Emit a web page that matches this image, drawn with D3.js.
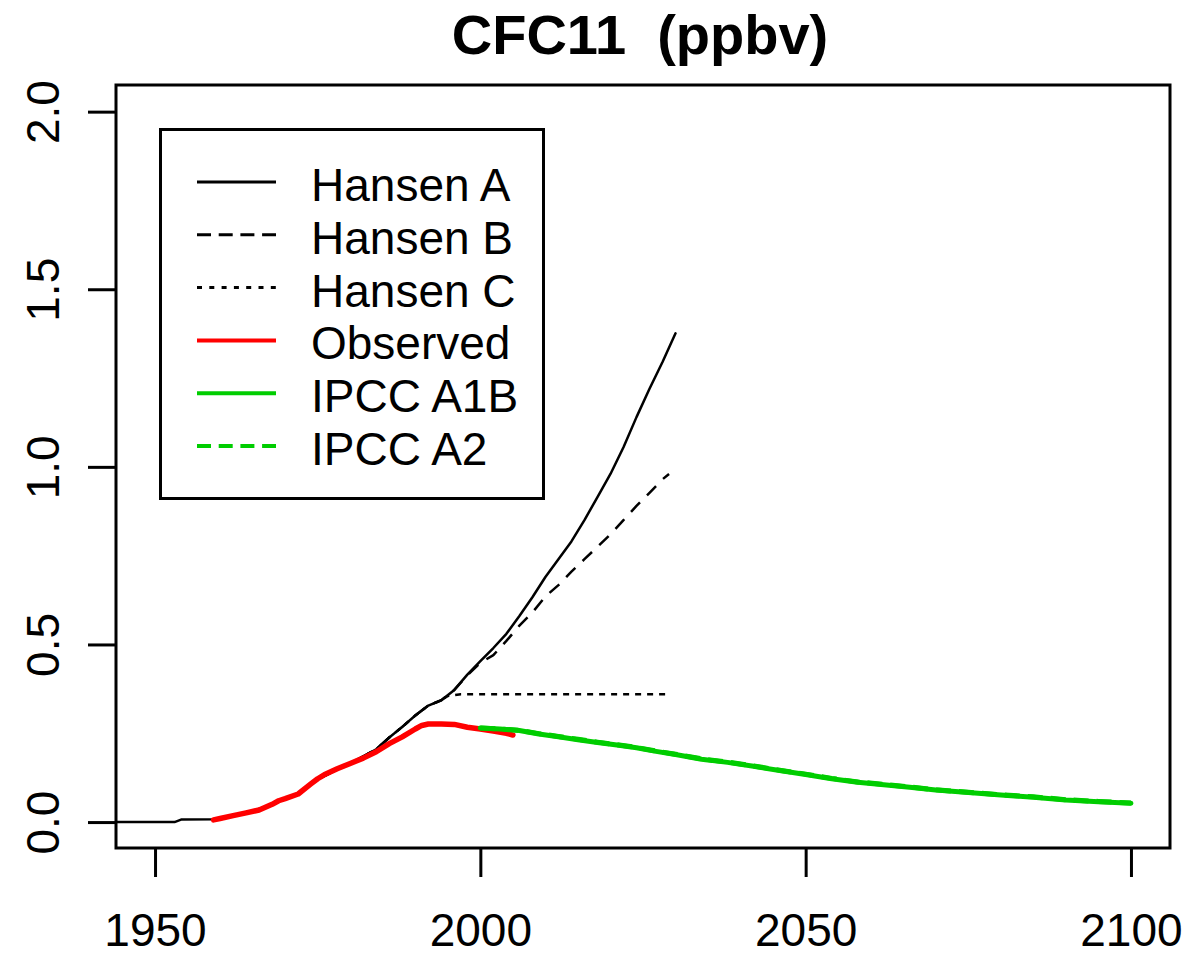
<!DOCTYPE html>
<html>
<head>
<meta charset="utf-8">
<script src="https://cdn.jsdelivr.net/npm/d3@7"></script>
<style>
  html, body { margin: 0; padding: 0; background: #fff; }
  svg { display: block; }
  text { font-family: "Liberation Sans", Arial, sans-serif; fill: #000; }
</style>
</head>
<body>
<svg id="chart" width="1188" height="957"></svg>
<script>
// ---- Data ----
const xTicks = [1950, 2000, 2050, 2100];
const yTicks = [0.0, 0.5, 1.0, 1.5, 2.0];
const yTickLabels = ["0.0", "0.5", "1.0", "1.5", "2.0"];

const hansenAYears  = [1940, 1953, 1954, 1959, 1960, 1962, 1965, 1968, 1970, 1972, 1975, 1978, 1980, 1982, 1984, 1986, 1988, 1990, 1992, 1994, 1996, 1998, 2000, 2002, 2004, 2006, 2008, 2010, 2012, 2014, 2016, 2018, 2020, 2022, 2024, 2026, 2028, 2030];
const hansenAValues = [0.0, 0.0, 0.007, 0.008, 0.01, 0.018, 0.03, 0.05, 0.066, 0.08, 0.12, 0.148, 0.166, 0.185, 0.205, 0.238, 0.268, 0.3, 0.328, 0.343, 0.372, 0.415, 0.453, 0.49, 0.53, 0.58, 0.633, 0.69, 0.74, 0.79, 0.85, 0.915, 0.98, 1.055, 1.14, 1.22, 1.295, 1.376];

const hansenBYears  = [1959, 1962, 1965, 1968, 1970, 1972, 1975, 1978, 1980, 1982, 1984, 1986, 1988, 1990, 1992, 1994, 1996, 1998, 2000, 2002, 2004, 2006, 2008, 2010, 2012, 2014, 2016, 2018, 2020, 2022, 2024, 2026, 2028, 2029];
const hansenBValues = [0.008, 0.018, 0.03, 0.05, 0.066, 0.08, 0.12, 0.148, 0.166, 0.185, 0.205, 0.238, 0.268, 0.3, 0.328, 0.343, 0.372, 0.413, 0.448, 0.47, 0.51, 0.553, 0.59, 0.635, 0.667, 0.705, 0.74, 0.775, 0.81, 0.85, 0.89, 0.927, 0.965, 0.98];

const hansenCYears  = [1959, 1962, 1965, 1968, 1970, 1972, 1975, 1978, 1980, 1982, 1984, 1986, 1988, 1990, 1992, 1994, 1995, 1997, 2000, 2010, 2020, 2029];
const hansenCValues = [0.008, 0.018, 0.03, 0.05, 0.066, 0.08, 0.12, 0.148, 0.166, 0.185, 0.205, 0.238, 0.268, 0.3, 0.328, 0.343, 0.355, 0.36, 0.36, 0.36, 0.36, 0.36];

const observedYears  = [1959, 1960, 1962, 1964, 1966, 1968, 1969, 1970, 1972, 1974, 1975, 1976, 1978, 1980, 1982, 1984, 1986, 1988, 1990, 1991, 1992, 1994, 1996, 1998, 2000, 2002, 2004, 2005];
const observedValues = [0.006, 0.01, 0.018, 0.026, 0.034, 0.05, 0.06, 0.066, 0.079, 0.108, 0.122, 0.133, 0.15, 0.165, 0.18, 0.198, 0.221, 0.24, 0.262, 0.272, 0.276, 0.276, 0.275, 0.267, 0.262, 0.256, 0.25, 0.245];

const a1bYears  = [2000, 2003, 2006, 2009, 2012, 2015, 2018, 2021, 2024, 2027, 2030, 2034, 2038, 2042, 2046, 2050, 2054, 2058, 2062, 2066, 2070, 2075, 2080, 2085, 2090, 2095, 2100];
const a1bValues = [0.265, 0.262, 0.258, 0.248, 0.24, 0.232, 0.224, 0.217, 0.209, 0.199, 0.19, 0.177, 0.168, 0.157, 0.145, 0.134, 0.122, 0.112, 0.105, 0.098, 0.09, 0.083, 0.076, 0.07, 0.062, 0.057, 0.053];

const a2Years  = [2000, 2003, 2006, 2009, 2012, 2015, 2018, 2021, 2024, 2027, 2030, 2034, 2038, 2042, 2046, 2050, 2054, 2058, 2062, 2066, 2070, 2075, 2080, 2085, 2090, 2095, 2100];
const a2Values = [0.265, 0.262, 0.258, 0.249, 0.241, 0.233, 0.225, 0.218, 0.21, 0.2, 0.191, 0.178, 0.169, 0.158, 0.146, 0.135, 0.123, 0.113, 0.106, 0.099, 0.091, 0.084, 0.077, 0.071, 0.063, 0.058, 0.054];

const legendLabels = ["Hansen A", "Hansen B", "Hansen C", "Observed", "IPCC A1B", "IPCC A2"];

// ---- Series styles ----
const series = [
  { years: hansenAYears, values: hansenAValues, color: "#000", width: 2.5, dash: null, lw: 3, ldash: null },
  { years: hansenBYears, values: hansenBValues, color: "#000", width: 2.5, dash: "13,10", lw: 3, ldash: "14,7.7" },
  { years: hansenCYears, values: hansenCValues, color: "#000", width: 2.5, dash: "6,6", lw: 3, ldash: "5,7.3" },
  { years: observedYears, values: observedValues, color: "#ff0000", width: 5.5, dash: null, lw: 4, ldash: null },
  { years: a1bYears, values: a1bValues, color: "#00cd00", width: 5, dash: null, lw: 4, ldash: null },
  { years: a2Years, values: a2Values, color: "#00cd00", width: 5, dash: "15,8", lw: 4, ldash: "14,7.7" }
];

// ---- Layout ----
const svg = d3.select("#chart");
const L = 116, R = 1170, T = 85, B = 848;

const x = d3.scaleLinear().domain([1944, 2106]).range([L, R]);
const y = d3.scaleLinear().domain([-0.073, 2.075]).range([B, T]);

svg.append("defs").append("clipPath").attr("id", "plotclip")
  .append("rect").attr("x", L).attr("y", T).attr("width", R - L).attr("height", B - T);

// Title
svg.append("text")
  .attr("x", 640).attr("y", 54)
  .attr("text-anchor", "middle")
  .style("font-size", "56px").style("font-weight", "bold")
  .style("white-space", "pre")
  .text("CFC11  (ppbv)");

// Lines
const plot = svg.append("g").attr("clip-path", "url(#plotclip)");
const line = d3.line().x(d => x(d[0])).y(d => y(d[1]));
series.forEach(s => {
  const pts = s.years.map((yr, i) => [yr, s.values[i]]);
  plot.append("path")
    .attr("d", line(pts))
    .attr("fill", "none")
    .attr("stroke", s.color)
    .attr("stroke-width", s.width)
    .attr("stroke-linejoin", "round")
    .attr("stroke-linecap", s.dash ? "butt" : "round")
    .attr("stroke-dasharray", s.dash);
});

// X axis
const xAxis = d3.axisBottom(x).tickValues(xTicks).tickSize(29).tickPadding(36).tickFormat(d3.format("d"));
const gx = svg.append("g").attr("transform", `translate(0,${B})`).call(xAxis);
gx.select(".domain").remove();
gx.selectAll(".tick line").attr("stroke", "#000").attr("stroke-width", 3);
gx.selectAll(".tick text")
  .attr("font-family", "Liberation Sans, Arial, sans-serif")
  .style("font-size", "46px").attr("fill", "#000")
  .attr("dy", "0.71em");

// Y axis
const yAxis = d3.axisLeft(y).tickValues(yTicks).tickSize(28).tickFormat((d, i) => yTickLabels[i]);
const gy = svg.append("g").attr("transform", `translate(${L},0)`).call(yAxis);
gy.select(".domain").remove();
gy.selectAll(".tick line").attr("stroke", "#000").attr("stroke-width", 3);
gy.selectAll(".tick text")
  .attr("font-family", "Liberation Sans, Arial, sans-serif")
  .style("font-size", "46px").attr("fill", "#000")
  .attr("text-anchor", "middle")
  .attr("x", null).attr("dy", null)
  .attr("transform", `translate(${59 - L},0) rotate(-90)`);

// Plot frame
svg.append("rect")
  .attr("x", L).attr("y", T).attr("width", R - L).attr("height", B - T)
  .attr("fill", "none").attr("stroke", "#000").attr("stroke-width", 3);

// Legend
const leg = svg.append("g");
leg.append("rect")
  .attr("x", 160.5).attr("y", 129.5).attr("width", 383).attr("height", 369)
  .attr("fill", "#fff").attr("stroke", "#000").attr("stroke-width", 3);
const rowY = d3.scaleLinear().domain([0, 5]).range([182, 446]);
series.forEach((s, i) => {
  const cy = rowY(i);
  leg.append("line")
    .attr("x1", 197).attr("x2", 276).attr("y1", cy).attr("y2", cy)
    .attr("stroke", s.color).attr("stroke-width", s.lw)
    .attr("stroke-dasharray", s.ldash);
  leg.append("text")
    .attr("x", 311).attr("y", cy + 19)
    .style("font-size", "46px")
    .text(legendLabels[i]);
});
</script>
</body>
</html>
